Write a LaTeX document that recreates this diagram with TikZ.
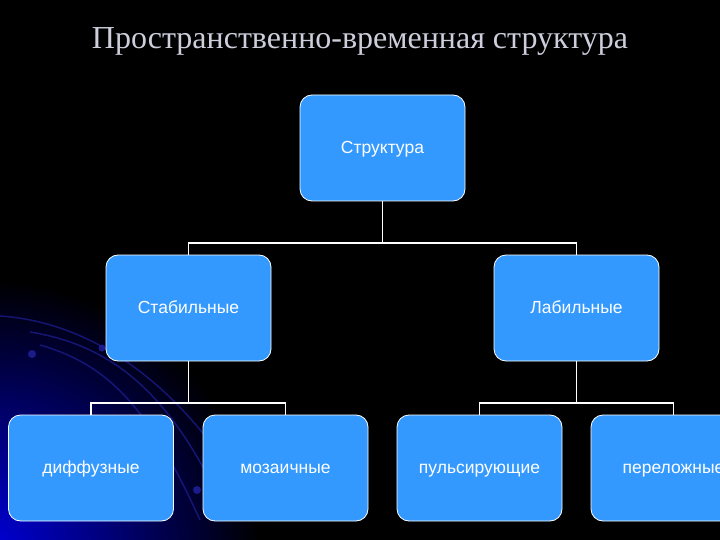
\documentclass[tikz,border=0pt]{standalone}
\usepackage{fontspec}
\setmainfont{Liberation Sans}
\newfontfamily\titlefont{Liberation Serif}
\definecolor{boxblue}{RGB}{51,153,255}
\definecolor{titlegray}{RGB}{205,205,220}
\definecolor{arcblue}{RGB}{30,30,150}
\definecolor{glowblue}{RGB}{0,0,215}
\begin{document}
\begin{tikzpicture}[x=1pt,y=-1pt,
  box/.style={draw=white,line width=0.8pt,fill=boxblue,rounded corners=12pt,
    minimum width=165pt,minimum height=106pt,text=white,font=\fontsize{17.5}{20}\selectfont,
    inner sep=0pt,text height=12.6pt,text depth=2pt},
  link/.style={draw=white,line width=1.6pt},
  arcline/.style={draw=arcblue,line width=1.5pt,opacity=0.7}]
\useasboundingbox (0,0) rectangle (720,540);
\fill[black] (0,0) rectangle (720,540);
\begin{scope}
\clip (0,0) rectangle (720,540);
\shade[inner color=glowblue,outer color=black] (-10,550) circle[radius=270pt];
\end{scope}
% decorative arcs
\draw[arcline] (0,316) .. controls (90,322) and (170,380) .. (230,470);
\draw[arcline] (30,332) .. controls (110,345) and (165,390) .. (215,490);
\draw[arcline] (40,345) .. controls (110,365) and (150,410) .. (200,520);
\fill[arcblue,opacity=0.9] (32,354) circle[radius=4pt];
\fill[arcblue,opacity=0.9] (102,348) circle[radius=3.5pt];
\fill[arcblue,opacity=0.9] (197,490) circle[radius=4pt];
% title
\node[text=titlegray,font=\titlefont\fontsize{32}{36}\selectfont] (title) at (360,41) {Пространственно-временная структура};
% boxes
\node[box] (root) at (382.5,148) {Структура};
\node[box] (stab) at (188.5,308) {Стабильные};
\node[box] (lab) at (576.5,308) {Лабильные};
\node[box] (d1) at (91,468) {диффузные};
\node[box] (d2) at (285.5,468) {мозаичные};
\node[box] (d3) at (479.5,468) {пульсирующие};
\node[box] (d4) at (673.5,468) {переложные};
% connectors
\coordinate (j0) at (382.5,243);
\coordinate (j1) at (188.5,403);
\coordinate (j2) at (576.5,403);
\draw[link] (root.south) -- (j0);
\draw[link] (stab.north) |- (j0) -| (lab.north);
\draw[link] (stab.south) -- (j1);
\draw[link] (d1.north) |- (j1) -| (d2.north);
\draw[link] (lab.south) -- (j2);
\draw[link] (d3.north) |- (j2) -| (d4.north);
\end{tikzpicture}
\end{document}
